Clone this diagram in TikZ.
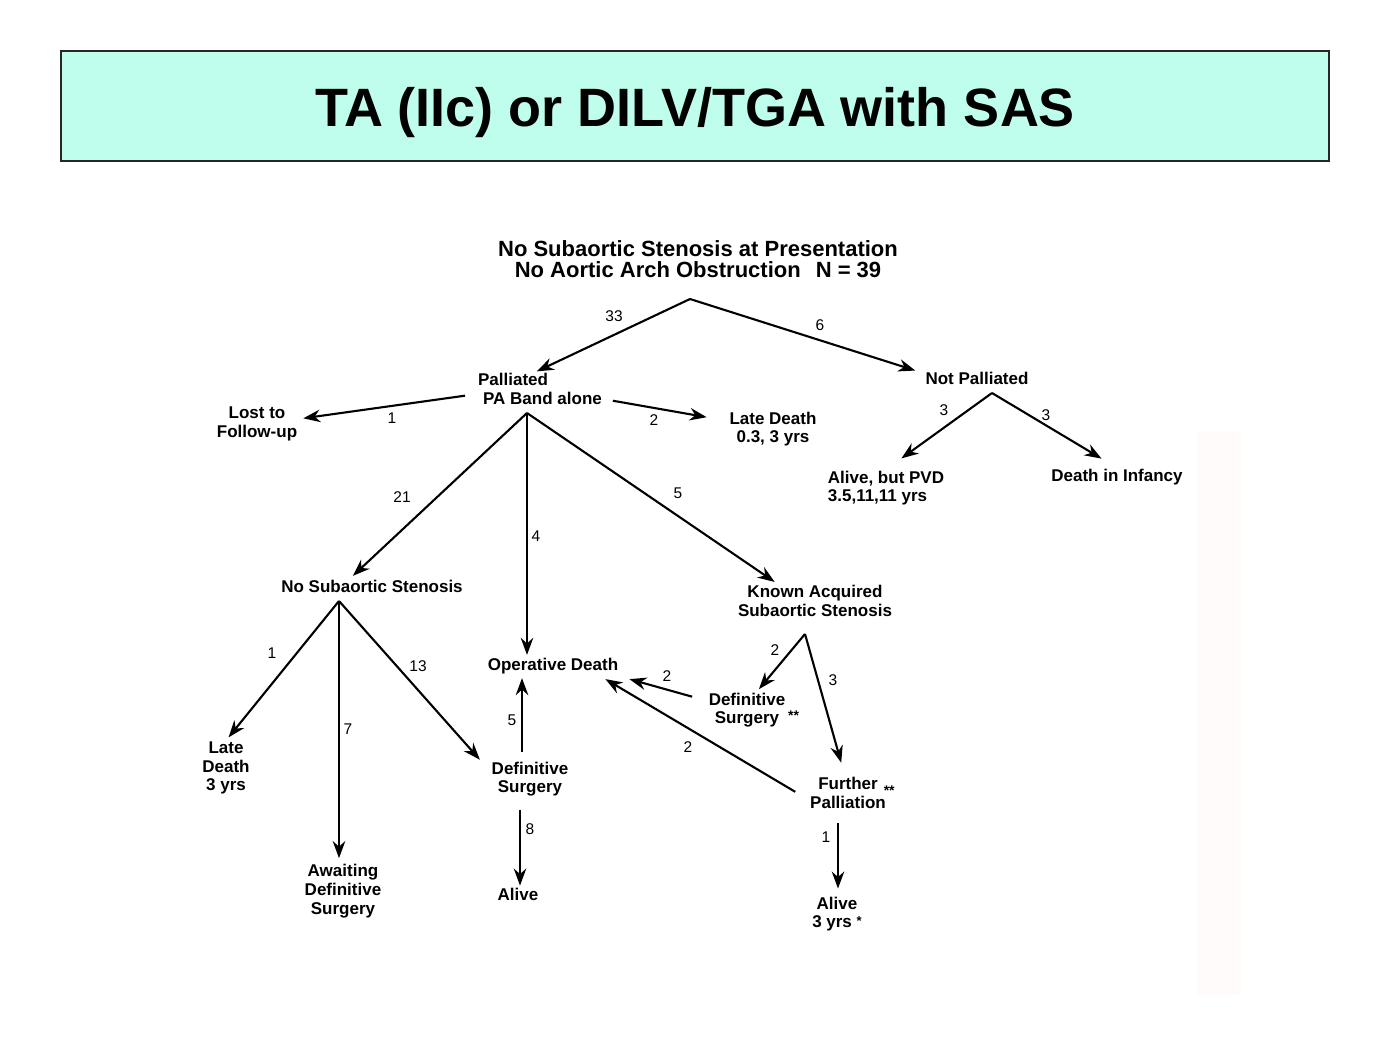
\documentclass[tikz,border=0pt]{standalone}
\usepackage{fontspec}
\setmainfont{Liberation Sans}
\usetikzlibrary{arrows.meta}

\definecolor{mint}{RGB}{191,253,236}

\begin{document}
\begin{tikzpicture}[x=1pt,y=-1pt,
    box/.style={font=\fontsize{17}{18.7}\selectfont\bfseries, align=center, inner sep=1pt},
    num/.style={font=\fontsize{15.5}{16}\selectfont, inner sep=0pt},
    arr/.style={-{Stealth[length=17pt,width=12.5pt,inset=5.5pt]}, line width=2.1pt}]
    \useasboundingbox (0,0) rectangle (1400,1051);

    %title
    \node[draw=black!85, line width=1.2pt, fill=mint, minimum width=1268pt, minimum height=110pt,
          inner sep=0pt, text height=44pt, text depth=2pt,
          font=\fontsize{54}{60}\selectfont\bfseries] (title) at (695,106) {TA (IIc) or DILV/TGA with SAS};
    \fill[red!1.5] (1197,432) rectangle (1241,995);

    %nodes
    \node[box, font=\fontsize{22}{20.7}\selectfont\bfseries] (top) at (698,259)
        {No Subaortic Stenosis at Presentation\\No Aortic Arch Obstruction\hspace{15pt}N = 39};
    \node[box, align=left] (pall) at (540,389) {Palliated\\\hspace{5pt}PA Band alone};
    \node[box] (notp) at (977,378) {Not Palliated};
    \node[box] (lost) at (257,424) {Lost to\\Follow-up};
    \node[box] (late1) at (773,429) {Late Death\\0.3, 3 yrs};
    \node[box, align=left] (alive1) at (886,488) {Alive, but PVD\\3.5,11,11 yrs};
    \node[box] (infancy) at (1117,477) {Death in Infancy};
    \node[box] (nosub) at (372,586) {No Subaortic Stenosis};
    \node[box] (known) at (815,601) {Known Acquired\\Subaortic Stenosis};
    \node[box] (late2) at (226,768) {Late\\Death\\3 yrs};
    \node[box] (await) at (343,891) {Awaiting\\Definitive\\Surgery};
    \node[box] (opdeath) at (553,666) {Operative Death};
    \node[box] (defs1) at (530,779) {Definitive\\Surgery};
    \node[box] (alive2) at (518,894) {Alive};
    \node[box] (defs2) at (747,710)
        {Definitive\\Surgery\rlap{\hspace{9pt}\raisebox{3pt}{\fontsize{14}{14}\selectfont **}}};
    \node[box] (further) at (848,793)
        {Further\rlap{\hspace{6pt}\raisebox{-6pt}{\fontsize{14}{14}\selectfont **}}\\Palliation};
    \node[box] (alive3) at (837,914) {Alive\\3 yrs \raisebox{2pt}{\fontsize{13}{13}\selectfont *}};

    %forks
    \coordinate (topfork) at (690,299);
    \coordinate (pallfork) at (527,413);
    \coordinate (notpfork) at (992,393);
    \coordinate (nosubfork) at (339,601);
    \coordinate (knownfork) at (805,634);

    %arrows
    \draw[arr, shorten >=2pt] (topfork) -- ([xshift=-5pt]pall.north);
    \draw[arr] (topfork) -- ([xshift=-9pt]notp.north west);
    \draw[arr, shorten <=12pt, shorten >=5pt] ([yshift=-5pt]pall.west) -- ([yshift=5pt]lost.east);
    \draw[arr, shorten <=10pt, shorten >=22pt] ([yshift=-10pt]pall.east) -- ([yshift=8pt]late1.west);
    \draw[arr, shorten >=19pt] (notpfork) -- (alive1.north);
    \draw[arr, shorten >=18pt] (notpfork) -- (infancy.north);
    \draw[arr, shorten >=4pt] (pallfork) -- ([xshift=-22pt]nosub.north);
    \draw[arr, shorten >=2pt] (pallfork) -- (pallfork |- opdeath.north);
    \draw[arr, shorten >=4pt] (pallfork) -- ([xshift=-37pt]known.north);
    \draw[arr, shorten >=4pt] (nosubfork) -- (late2.north);
    \draw[arr, shorten >=5pt] (nosubfork) -- (nosubfork |- await.north);
    \draw[arr, shorten >=1pt] (nosubfork) -- ([xshift=-10pt]defs1.north west);
    \draw[arr, shorten <=8pt, shorten >=3pt] ([xshift=-8pt]defs1.north) -- ([xshift=-8pt]defs1.north |- opdeath.south);
    \draw[arr, shorten <=12pt, shorten >=1pt] ([xshift=-10pt]defs1.south) -- ([xshift=-10pt]defs1.south |- alive2.north);
    \draw[arr, shorten >=3pt] (knownfork) -- ([xshift=10pt]defs2.north);
    \draw[arr, shorten >=14pt] (knownfork) -- ([xshift=-3pt]further.north);
    \draw[arr, shorten <=16pt] ([yshift=9pt]defs2.west) -- ([xshift=10pt,yshift=-4pt]opdeath.south east);
    \draw[arr, shorten <=16pt] ([yshift=-7pt]further.west) -- ([xshift=-14pt,yshift=-4pt]opdeath.south east);
    \draw[arr, shorten <=13pt, shorten >=7pt] ([xshift=-10pt]further.south) -- ([xshift=-10pt]further.south |- alive3.north);

    %counts
    \node[num] (n33) at (614,316) {33};
    \node[num] (n6) at (820,325) {6};
    \node[num] (nlost) at (392,418) {1};
    \node[num] (nlate1) at (654,420) {2};
    \node[num] (nalive1) at (944,410) {3};
    \node[num] (ninf) at (1046,415) {3};
    \node[num] (n21) at (402,497) {21};
    \node[num] (nop) at (536,536) {4};
    \node[num] (nknown) at (678,493) {5};
    \node[num] (nlate2) at (272,653) {1};
    \node[num] (nawait) at (348,729) {7};
    \node[num] (n13) at (418,666) {13};
    \node[num] (nup) at (512,720) {5};
    \node[num] (ndown) at (530,829) {8};
    \node[num] (ndefs2) at (775,650) {2};
    \node[num] (nfurther) at (833,680) {3};
    \node[num] (nopa) at (667,676) {2};
    \node[num] (nopb) at (688,747) {2};
    \node[num] (nalive3) at (826,837) {1};
\end{tikzpicture}
\end{document}
